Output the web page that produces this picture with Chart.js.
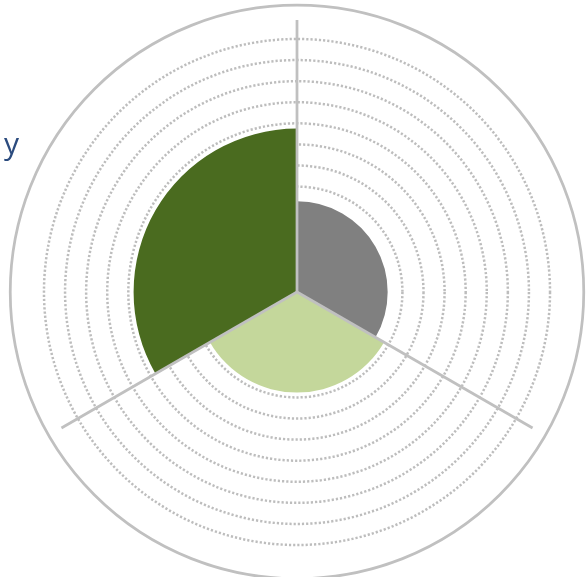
<!DOCTYPE html>
<html>
<head>
<meta charset="utf-8">
<script src="https://cdn.jsdelivr.net/npm/chart.js@4.4.1/dist/chart.umd.min.js"></script>
<style>
  html, body { margin: 0; padding: 0; background: #fff; }
  #wrap { position: relative; width: 588px; height: 577px; }
</style>
</head>
<body>
<div id="wrap"><canvas id="polar"></canvas></div>
<script>
// chart data
const categories = ['A', 'B', 'C'];
const values = [4.3, 4.77, 7.75];
const colors = ['#808080', '#c4d79b', '#4a6b1f'];
const ringStep = 1;
const scaleMax = 12.9;    // where the spokes end
const rimValue = 13.6;    // solid outer circle
const sideText = 'y';

// spokes on top of the segments + solid rim + cut-off label on the left
const overlay = {
    id: 'overlay',
    afterDatasetsDraw(chart) {
        const s = chart.scales.r;
        const ctx = chart.ctx;
        ctx.save();
        ctx.strokeStyle = '#c0c0c0';
        ctx.lineWidth = 2.75;
        const far = s.getDistanceFromCenterForValue(scaleMax);
        categories.forEach((c, i) => {
            const p = s.getPointPosition(i, far);
            ctx.beginPath();
            ctx.moveTo(s.xCenter, s.yCenter);
            ctx.lineTo(p.x, p.y);
            ctx.stroke();
        });
        ctx.beginPath();
        ctx.arc(s.xCenter, s.yCenter, s.getDistanceFromCenterForValue(rimValue), 0, Math.PI * 2);
        ctx.stroke();

        ctx.fillStyle = '#2b4b7e';
        ctx.font = '30px "Open Sans"';
        ctx.textBaseline = 'alphabetic';
        ctx.fillText(sideText, 4, 154);
        ctx.restore();
    }
};

new Chart(document.getElementById('polar'), {
    type: 'polarArea',
    data: {
        labels: categories,
        datasets: [{
            data: values,
            backgroundColor: colors,
            borderWidth: 0
        }]
    },
    options: {
        responsive: true,
        maintainAspectRatio: false,
        animation: false,
        layout: { padding: { left: 25, right: 19, top: 20, bottom: 13 } },
        plugins: {
            legend: { display: false },
            tooltip: { enabled: false }
        },
        scales: {
            r: {
                min: 0,
                max: scaleMax,
                startAngle: 0,
                angleLines: { display: false },
                pointLabels: { display: false },
                grid: { circular: true, color: '#bdbdbd', lineWidth: 2.5 },
                border: { dash: [2.2, 2] },
                ticks: { display: false, stepSize: ringStep, includeBounds: false }
            }
        }
    },
    plugins: [overlay]
});
</script>
</body>
</html>
